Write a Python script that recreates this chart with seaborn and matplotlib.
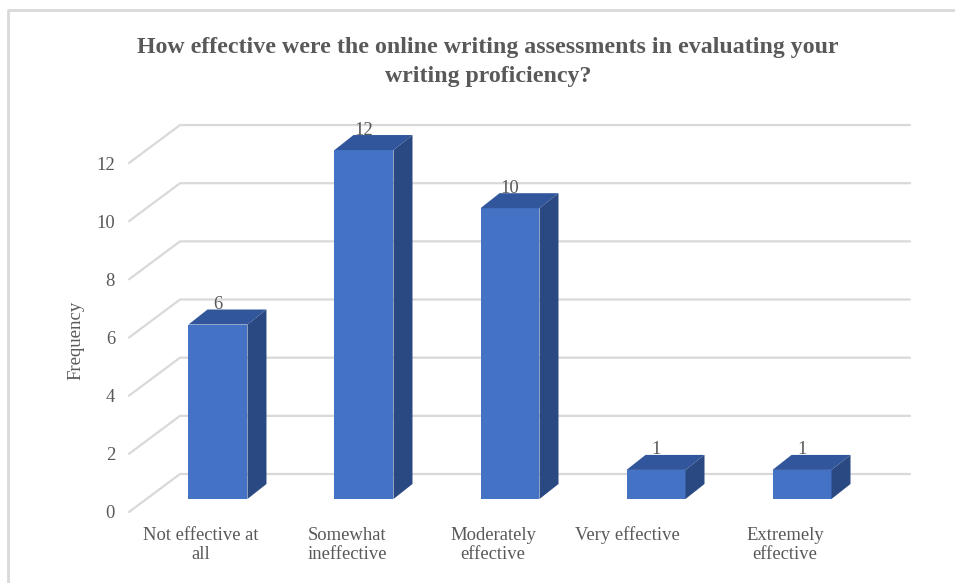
import matplotlib
matplotlib.use("Agg")
import matplotlib.pyplot as plt
from matplotlib.patches import Polygon
from matplotlib.lines import Line2D
from matplotlib.transforms import ScaledTranslation
import seaborn as sns
import pandas as pd

# data
categories = ["Not effective at\nall", "Somewhat\nineffective", "Moderately\neffective",
              "Very effective", "Extremely\neffective"]
frequency = [6, 12, 10, 1, 1]
yticks = [0, 2, 4, 6, 8, 10, 12]
title = "How effective were the online writing assessments in evaluating your\nwriting proficiency?"

sns.set_style("white")
plt.rcParams["font.family"] = ["Liberation Serif", "DejaVu Serif"]
txt = "#595959"
grid_c = "#D9D9D9"
front_c = "#4472C4"
top_c = "#31569B"
side_c = "#2A4983"
fs = 13.4

W, H = 955, 583
fig = plt.figure(figsize=(W / 100, H / 100), dpi=100)
ax = fig.add_axes([129 / W, (H - 512) / H, (910 - 129) / W, (512 - 120) / H])

# pseudo-3d offsets in data units (x: 146 px per category, y: 29.08 px per unit)
px, py = 146.0, 29.08
shift = (17 / px, 13 / py)     # bar front face sits inside the floor
side = (19 / px, 15 / py)      # bar depth
wall = (51 / px, 38 / py)      # floor depth to back wall

df = pd.DataFrame({"cat": categories, "freq": frequency})
sns.barplot(data=df, x="cat", y="freq", color=front_c, width=0.404,
            saturation=1, edgecolor="none", ax=ax, zorder=3)

ax.set_xlim(-0.493, 4.856)
ax.set_ylim(0, 13.48)

# gridlines: front edge -> back wall
xl, xr = ax.get_xlim()
for v in yticks:
    ax.add_line(Line2D([xl, xl + wall[0], xr], [v, v + wall[1], v + wall[1]],
                       color=grid_c, lw=1.6, zorder=1, clip_on=False))

for rect, val in zip(ax.patches, frequency):
    x, w, h = rect.get_x(), rect.get_width(), rect.get_height()
    x0, y0 = x + shift[0], shift[1]
    rect.set_x(x0)
    rect.set_y(y0)
    top = [(x0, y0 + h), (x0 + side[0], y0 + h + side[1]),
           (x0 + w + side[0], y0 + h + side[1]), (x0 + w, y0 + h)]
    sd = [(x0 + w, y0), (x0 + w + side[0], y0 + side[1]),
          (x0 + w + side[0], y0 + h + side[1]), (x0 + w, y0 + h)]
    ax.add_patch(Polygon(top, closed=True, facecolor=top_c, edgecolor="none", zorder=3))
    ax.add_patch(Polygon(sd, closed=True, facecolor=side_c, edgecolor="none", zorder=3))
    ax.text(x0 + w / 2, y0 + h + side[1] - 0.12, str(val), ha="center", va="bottom",
            fontsize=fs, color=txt, zorder=4)

ax.set_yticks(yticks)
ax.set_yticklabels([str(t) for t in yticks])
ax.set_xticks(range(len(categories)))
ax.set_xticklabels(categories, linespacing=1.2)
ax.tick_params(axis="y", length=0, pad=10, labelsize=fs, labelcolor=txt)
ax.tick_params(axis="x", length=0, pad=10.5, labelsize=fs, labelcolor=txt)
ax.set_xlabel("")
ax.set_ylabel("")
for s in ax.spines.values():
    s.set_visible(False)
ax.patch.set_alpha(0)

# single-line label sits a bit further left in the original
lab = ax.get_xticklabels()[3]
lab.set_transform(lab.get_transform() + ScaledTranslation(-0.12, 0, fig.dpi_scale_trans))

fig.text(76 / W, 1 - 340 / H, "Frequency", rotation=90, ha="center", va="center",
         fontsize=13.5, color=txt)
fig.text(488 / W, 1 - 62 / H, title, ha="center", va="center", fontsize=17.2,
         fontweight="bold", color=txt, linespacing=1.5)

# chart border (only top and left edges visible)
fig.add_artist(Line2D([8 / W, 8 / W, 1], [0, 1 - 10 / H, 1 - 10 / H],
                      transform=fig.transFigure, color=grid_c, lw=2))

fig.savefig("out.png", dpi=100)
